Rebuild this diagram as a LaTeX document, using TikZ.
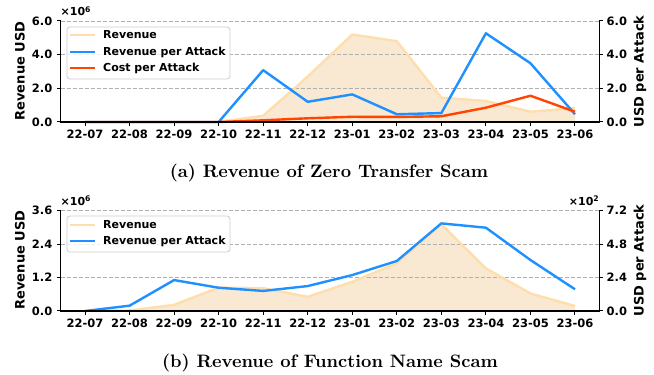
\documentclass[tikz,border=0pt]{standalone}
\usepackage{fontspec}
\setsansfont{DejaVu Sans}
\newfontfamily\capfont{lmroman10-regular}[Extension=.otf, BoldFont=lmroman10-bold]
\usepackage{tikz}

\definecolor{revline}{HTML}{FFDEAD}
\definecolor{revfill}{HTML}{F9E8D2}
\definecolor{perattack}{HTML}{1E90FF}
\definecolor{costattack}{HTML}{FF4500}
\definecolor{gridgray}{HTML}{B0B0B0}
\definecolor{legframe}{HTML}{CCCCCC}

\tikzset{
  spine/.style={line width=1.6pt, black},
  tickmark/.style={line width=1pt, black},
  gridline/.style={gridgray, line width=0.8pt, dash pattern=on 4pt off 2pt},
  ticklabel/.style={font=\sffamily\bfseries\fontsize{11.5}{13}\selectfont, inner sep=0pt},
  multlabel/.style={font=\sffamily\bfseries\fontsize{11}{12}\selectfont, inner sep=0pt},
  axislabel/.style={font=\sffamily\bfseries\fontsize{13}{15}\selectfont, inner sep=0pt, rotate=90},
  legendtext/.style={font=\sffamily\bfseries\fontsize{11}{13}\selectfont, inner sep=0pt, anchor=base west},
  legendbox/.style={draw=legframe, fill=white, fill opacity=0.8, rounded corners=3pt, line width=0.8pt},
  series/.style={line width=2.4pt, line join=round},
  captiontext/.style={font=\capfont\bfseries\fontsize{18}{20}\selectfont, inner sep=0pt, anchor=base}
}

\begin{document}
\begin{tikzpicture}
\useasboundingbox (0pt,0pt) rectangle (654pt,375pt);

% (a) zero transfer scam
\begin{scope}[shift={(85pt,253pt)}, x=44.545pt, y=16.833pt]
  \fill[revfill] plot coordinates {(0,0) (1,0) (2,0) (3,0) (4,0.37) (5,2.7) (6,5.2) (7,4.8) (8,1.44) (9,1.25) (10,0.61) (11,0.82)} -- (11,0) -- (0,0) -- cycle;
  \foreach \v in {2,4,6}
    \draw[gridline] (-0.55,\v) -- (11.55,\v);
  \draw[series, revline] plot coordinates {(0,0) (1,0) (2,0) (3,0) (4,0.37) (5,2.7) (6,5.2) (7,4.8) (8,1.44) (9,1.25) (10,0.61) (11,0.82)};
  \draw[series, perattack] plot coordinates {(0,0) (1,0) (2,0) (3,0) (4,3.08) (5,1.2) (6,1.64) (7,0.46) (8,0.53) (9,5.27) (10,3.49) (11,0.46)};
  \draw[series, costattack] plot coordinates {(0,0) (1,0) (2,0) (3,0) (4,0.1) (5,0.22) (6,0.31) (7,0.3) (8,0.34) (9,0.85) (10,1.56) (11,0.61)};
  \draw[spine] (-0.55,6) -- (-0.55,0) -- (11.55,0) -- (11.55,6);
  \foreach \v/\t in {0/0.0,2/2.0,4/4.0,6/6.0} {
    \draw[tickmark] (-0.55,\v) -- ++(-4pt,0);
    \draw[tickmark] (11.55,\v) -- ++(4pt,0);
    \node[ticklabel, anchor=east, xshift=-8pt] (la\v) at (-0.55,\v) {\t};
    \node[ticklabel, anchor=west, xshift=7pt] (ra\v) at (11.55,\v) {\t};
  }
  \foreach \m [count=\k from 0] in {22-07,22-08,22-09,22-10,22-11,22-12,23-01,23-02,23-03,23-04,23-05,23-06} {
    \draw[tickmark] (\k,0) -- ++(0,-4pt);
    \node[ticklabel, anchor=base, yshift=-17pt] (xa\k) at (\k,0) {\m};
  }
  \node[multlabel, anchor=base west, yshift=5pt] (mula) at (-0.55,6) {×10\textsuperscript{6}};
\end{scope}

\node[axislabel] (ylefta) at (20pt,304pt) {Revenue USD};
\node[axislabel] (yrighta) at (640pt,303.5pt) {USD per Attack};

\draw[legendbox] (67pt,296pt) rectangle (230pt,348pt);
\draw[series, revline] (70pt,340pt) -- (95pt,340pt);
\draw[series, perattack] (70pt,323pt) -- (95pt,323pt);
\draw[series, costattack] (70pt,307pt) -- (95pt,307pt);
\node[legendtext] (lega1) at (103pt,336pt) {Revenue};
\node[legendtext] (lega2) at (103pt,319pt) {Revenue per Attack};
\node[legendtext] (lega3) at (103pt,303pt) {Cost per Attack};

\node[captiontext] (capa) at (329pt,197.3pt) {(a) Revenue of Zero Transfer Scam};

% (b) function name scam
\begin{scope}[shift={(85pt,64pt)}, x=44.545pt, y=27.86pt]
  \fill[revfill] plot coordinates {(0,0) (1,0.02) (2,0.22) (3,0.84) (4,0.82) (5,0.51) (6,1.05) (7,1.71) (8,3.11) (9,1.53) (10,0.63) (11,0.18)} -- (11,0) -- (0,0) -- cycle;
  \foreach \v in {1.2,2.4,3.6}
    \draw[gridline] (-0.55,\v) -- (11.55,\v);
  \draw[series, revline] plot coordinates {(0,0) (1,0.02) (2,0.22) (3,0.84) (4,0.82) (5,0.51) (6,1.05) (7,1.71) (8,3.11) (9,1.53) (10,0.63) (11,0.18)};
  \draw[series, perattack] plot coordinates {(0,0) (1,0.19) (2,1.11) (3,0.835) (4,0.72) (5,0.895) (6,1.29) (7,1.795) (8,3.145) (9,2.99) (10,1.83) (11,0.78)};
  \draw[spine] (-0.55,3.6) -- (-0.55,0) -- (11.55,0) -- (11.55,3.6);
  \foreach \v/\t/\r [count=\k] in {0/0.0/0.0,1.2/1.2/2.4,2.4/2.4/4.8,3.6/3.6/7.2} {
    \draw[tickmark] (-0.55,\v) -- ++(-4pt,0);
    \draw[tickmark] (11.55,\v) -- ++(4pt,0);
    \node[ticklabel, anchor=east, xshift=-8pt] (lb\k) at (-0.55,\v) {\t};
    \node[ticklabel, anchor=west, xshift=7pt] (rb\k) at (11.55,\v) {\r};
  }
  \foreach \m [count=\k from 0] in {22-07,22-08,22-09,22-10,22-11,22-12,23-01,23-02,23-03,23-04,23-05,23-06} {
    \draw[tickmark] (\k,0) -- ++(0,-4pt);
    \node[ticklabel, anchor=base, yshift=-17pt] (xb\k) at (\k,0) {\m};
  }
  \node[multlabel, anchor=base west, yshift=5pt] (mulbl) at (-0.55,3.6) {×10\textsuperscript{6}};
  \node[multlabel, anchor=base east, yshift=5pt] (mulbr) at (11.55,3.6) {×10\textsuperscript{2}};
\end{scope}

\node[axislabel] (yleftb) at (20pt,115pt) {Revenue USD};
\node[axislabel] (yrightb) at (640pt,114.5pt) {USD per Attack};

\draw[legendbox] (67pt,123pt) rectangle (230pt,159pt);
\draw[series, revline] (70pt,150pt) -- (95pt,150pt);
\draw[series, perattack] (70pt,134pt) -- (95pt,134pt);
\node[legendtext] (legb1) at (103pt,146pt) {Revenue};
\node[legendtext] (legb2) at (103pt,130pt) {Revenue per Attack};

\node[captiontext] (capb) at (330pt,7.3pt) {(b) Revenue of Function Name Scam};
\end{tikzpicture}
\end{document}
